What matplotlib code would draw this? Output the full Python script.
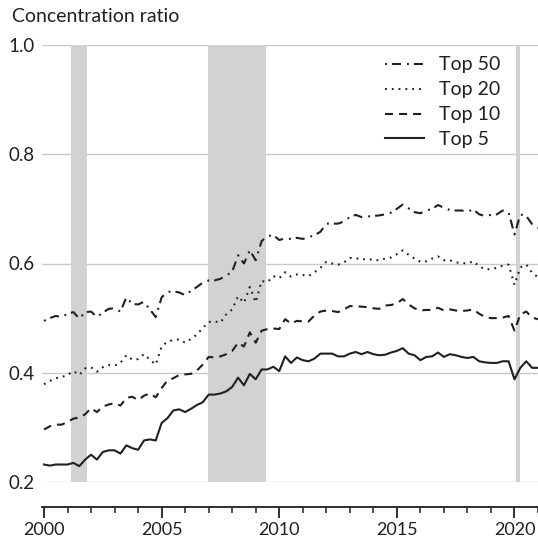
import numpy as np
import matplotlib
matplotlib.use('Agg')
import matplotlib.pyplot as plt
from matplotlib.ticker import MultipleLocator

plt.rcParams['font.family'] = ['Lato', 'DejaVu Sans']
plt.rcParams['lines.scale_dashes'] = False

# quarterly, 2000Q1 .. 2021Q1
top5 = [0.232, 0.230, 0.232, 0.232, 0.232, 0.235, 0.229, 0.241,
        0.250, 0.241, 0.255, 0.258, 0.258, 0.252, 0.267, 0.262,
        0.259, 0.276, 0.278, 0.276, 0.308, 0.317, 0.331, 0.333,
        0.328, 0.334, 0.341, 0.346, 0.360, 0.360, 0.362, 0.366,
        0.374, 0.391, 0.377, 0.398, 0.388, 0.406, 0.406, 0.411,
        0.403, 0.430, 0.418, 0.428, 0.423, 0.421, 0.426, 0.435,
        0.435, 0.435, 0.430, 0.430, 0.435, 0.438, 0.434, 0.438,
        0.434, 0.432, 0.433, 0.437, 0.440, 0.445, 0.435, 0.432,
        0.423, 0.429, 0.430, 0.437, 0.429, 0.434, 0.432, 0.429,
        0.427, 0.429, 0.421, 0.419, 0.418, 0.418, 0.421, 0.421,
        0.388, 0.409, 0.421, 0.409, 0.409]
top10 = [0.296, 0.302, 0.305, 0.305, 0.310, 0.316, 0.318, 0.324,
         0.335, 0.328, 0.338, 0.342, 0.344, 0.340, 0.354, 0.356,
         0.350, 0.358, 0.362, 0.355, 0.372, 0.386, 0.390, 0.396,
         0.397, 0.398, 0.404, 0.415, 0.429, 0.428, 0.430, 0.434,
         0.440, 0.455, 0.448, 0.474, 0.455, 0.477, 0.480, 0.481,
         0.480, 0.498, 0.490, 0.495, 0.494, 0.494, 0.505, 0.512,
         0.514, 0.513, 0.511, 0.516, 0.522, 0.522, 0.521, 0.520,
         0.518, 0.517, 0.523, 0.524, 0.527, 0.535, 0.525, 0.518,
         0.514, 0.515, 0.515, 0.519, 0.514, 0.516, 0.514, 0.513,
         0.514, 0.516, 0.508, 0.502, 0.500, 0.500, 0.501, 0.504,
         0.477, 0.507, 0.512, 0.501, 0.498]
top20 = [0.379, 0.385, 0.390, 0.392, 0.396, 0.403, 0.396, 0.408,
         0.410, 0.402, 0.410, 0.414, 0.413, 0.418, 0.432, 0.424,
         0.425, 0.434, 0.424, 0.415, 0.448, 0.457, 0.460, 0.461,
         0.455, 0.462, 0.470, 0.482, 0.493, 0.494, 0.492, 0.507,
         0.516, 0.540, 0.528, 0.557, 0.529, 0.568, 0.566, 0.577,
         0.573, 0.584, 0.576, 0.580, 0.579, 0.577, 0.584, 0.592,
         0.603, 0.600, 0.598, 0.602, 0.610, 0.610, 0.607, 0.609,
         0.606, 0.606, 0.609, 0.611, 0.617, 0.624, 0.616, 0.609,
         0.603, 0.604, 0.609, 0.613, 0.606, 0.606, 0.602, 0.601,
         0.600, 0.604, 0.595, 0.589, 0.590, 0.592, 0.596, 0.598,
         0.561, 0.593, 0.598, 0.583, 0.575]
top50 = [0.495, 0.500, 0.504, 0.502, 0.508, 0.511, 0.499, 0.511,
         0.512, 0.502, 0.510, 0.517, 0.518, 0.512, 0.538, 0.526,
         0.525, 0.530, 0.516, 0.502, 0.538, 0.548, 0.549, 0.547,
         0.542, 0.550, 0.557, 0.565, 0.569, 0.569, 0.572, 0.578,
         0.585, 0.615, 0.600, 0.624, 0.606, 0.641, 0.650, 0.652,
         0.643, 0.646, 0.645, 0.647, 0.645, 0.648, 0.652, 0.658,
         0.673, 0.673, 0.673, 0.677, 0.685, 0.689, 0.685, 0.686,
         0.687, 0.688, 0.690, 0.693, 0.700, 0.708, 0.701, 0.694,
         0.692, 0.697, 0.700, 0.707, 0.702, 0.698, 0.697, 0.697,
         0.695, 0.699, 0.690, 0.687, 0.689, 0.690, 0.697, 0.694,
         0.653, 0.690, 0.687, 0.672, 0.665]
years = 2000 + np.arange(len(top5)) / 4.0

# shaded recessions (start, end) as drawn
recessions = [(2001.15, 2001.83), (2006.98, 2009.42), (2020.08, 2020.25)]

ink = '#231f20'
fig = plt.figure(figsize=(5.38, 5.38), dpi=100)
ax = fig.add_axes([42 / 538, 56 / 538, 496 / 538, 437 / 538])

for y in [0.2, 0.4, 0.6, 0.8, 1.0]:
    ax.axhline(y, color='#c8c9cb', lw=1.0, zorder=1)
for a, b in recessions:
    ax.axvspan(a, b, color='#d1d2d4', lw=0, zorder=2)

ax.plot(years, top50, color=ink, lw=1.5, ls=(0, (1.4, 3.6, 6.5, 4.3)), label='Top 50', zorder=3)
ax.plot(years, top20, color=ink, lw=1.5, ls=(0, (1.3, 3.6)), label='Top 20', zorder=3)
ax.plot(years, top10, color=ink, lw=1.5, ls=(0, (5.8, 4.3)), label='Top 10', zorder=3)
ax.plot(years, top5, color=ink, lw=1.5, label='Top 5', zorder=3)

ax.set_xlim(2000 - 2 / 23.52, 2021)
ax.set_ylim(0.2, 1.0)
ax.set_yticks([0.2, 0.4, 0.6, 0.8, 1.0])
ax.set_yticklabels(['0.2', '0.4', '0.6', '0.8', '1.0'])
ax.set_xticks([2000, 2005, 2010, 2015, 2020])
ax.xaxis.set_minor_locator(MultipleLocator(1))

for s in ['top', 'right', 'left']:
    ax.spines[s].set_visible(False)
ax.spines['bottom'].set_position(('outward', 18))
ax.spines['bottom'].set_color(ink)
ax.spines['bottom'].set_linewidth(1.3)
ax.tick_params(axis='y', length=0, pad=5, labelsize=13.5, labelcolor=ink)
ax.tick_params(axis='x', which='major', length=8, width=1.3, color=ink, labelsize=13, labelcolor=ink, pad=3)
ax.tick_params(axis='x', which='minor', length=4.5, width=1.1, color=ink)

fig.text(12 / 538, 1 - 16 / 538, 'Concentration ratio', fontsize=14, color=ink, va='center', ha='left')

leg = ax.legend(loc='upper right', bbox_to_anchor=(0.925, 0.974), frameon=False, fontsize=14,
                borderpad=0, borderaxespad=0, handlelength=2.0, handletextpad=0.8,
                labelspacing=0.41, labelcolor=ink)

fig.savefig('out.png', dpi=100)
